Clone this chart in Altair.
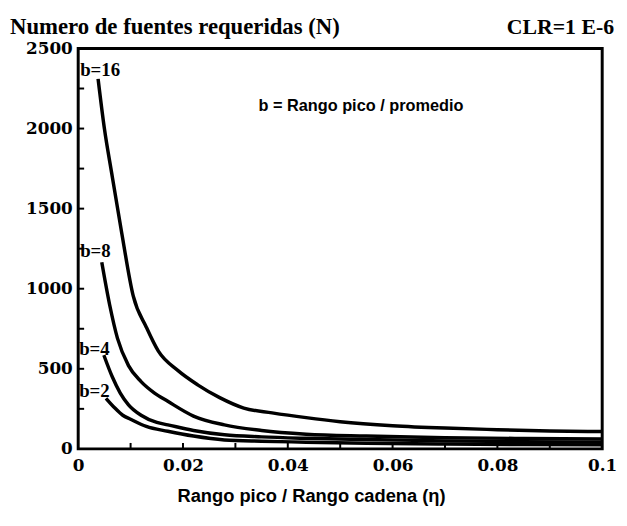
import altair as alt
import pandas as pd

# ---- data ----
eta_b16 = [0.0038, 0.0050, 0.0064, 0.0083, 0.0105, 0.0130, 0.0153, 0.0190, 0.0228, 0.0270, 0.0316, 0.0370, 0.0435, 0.0500, 0.0600, 0.0700, 0.0800, 0.0900, 0.1000]
n_b16 = [2310, 2000, 1720, 1350, 955, 760, 610, 490, 400, 320, 255, 225, 195, 170, 145, 130, 120, 112, 108]

eta_b8 = [0.0045, 0.0060, 0.0075, 0.0096, 0.0120, 0.0145, 0.0171, 0.0220, 0.0279, 0.0350, 0.0435, 0.0550, 0.0700, 0.0850, 0.1000]
n_b8 = [1165, 900, 690, 520, 420, 350, 297, 205, 150, 115, 92, 80, 70, 65, 62]

eta_b4 = [0.0049, 0.0065, 0.0080, 0.0096, 0.0120, 0.0150, 0.0171, 0.0220, 0.0279, 0.0350, 0.0435, 0.0550, 0.0700, 0.0850, 0.1000]
n_b4 = [585, 450, 350, 275, 210, 165, 150, 115, 88, 75, 66, 58, 50, 45, 42]

eta_b2 = [0.0053, 0.0070, 0.0085, 0.0100, 0.0130, 0.0171, 0.0220, 0.0279, 0.0350, 0.0435, 0.0550, 0.0700, 0.0850, 0.1000]
n_b2 = [316, 255, 210, 185, 140, 110, 80, 56, 48, 42, 35, 30, 27, 25]

x_ticks = [0, 0.02, 0.04, 0.06, 0.08, 0.1]
x_minor = [0.01, 0.02, 0.03, 0.04, 0.05, 0.06, 0.07, 0.08, 0.09]
y_ticks = [0, 500, 1000, 1500, 2000, 2500]
y_minor = [250, 500, 750, 1000, 1250, 1500, 1750, 2000, 2250]

title_text = "Numero de fuentes requeridas (N)"
clr_text = "CLR=1 E-6"
xtitle_text = "Rango pico / Rango cadena  (η)"
note_text = "b = Rango pico / promedio"
curve_labels = ["b=16", "b=8", "b=4", "b=2"]

rows = []
for lab, xs_, ys_ in [("b=16", eta_b16, n_b16), ("b=8", eta_b8, n_b8),
                      ("b=4", eta_b4, n_b4), ("b=2", eta_b2, n_b2)]:
    for a, b in zip(xs_, ys_):
        rows.append({"b": lab, "eta": a, "N": b})
df = pd.DataFrame(rows)

W, H = 530, 405
SERIF = "Liberation Serif"
DSERIF = "DejaVu Serif"
SANS = "Liberation Sans"

xs = alt.Scale(domain=[0, 0.1], nice=False, zero=True)
ys = alt.Scale(domain=[0, 2500], nice=False)

lines = alt.Chart(df).mark_line(color="black", strokeWidth=3.5, interpolate="monotone").encode(
    x=alt.X("eta:Q", scale=xs,
            axis=alt.Axis(values=x_ticks, format="~g", title=None, grid=False,
                          domain=False, ticks=False, labelPadding=9,
                          labelFont=DSERIF, labelFontSize=17, labelFontWeight="bold",
                          labelColor="black", labelFlush=False)),
    y=alt.Y("N:Q", scale=ys,
            axis=alt.Axis(values=y_ticks, format="d", title=None, grid=False, domain=False,
                          ticks=False, labelPadding=6,
                          labelFont=DSERIF, labelFontSize=17, labelFontWeight="bold",
                          labelColor="black")),
    detail="b:N",
)

xt = alt.Chart(pd.DataFrame({"t": x_minor})).mark_rule(color="black", strokeWidth=2).encode(
    x=alt.X("t:Q", scale=xs), y=alt.value(H), y2=alt.value(H - 6))
yt = alt.Chart(pd.DataFrame({"t": y_minor})).mark_rule(color="black", strokeWidth=2).encode(
    y=alt.Y("t:Q", scale=ys), x=alt.value(0), x2=alt.value(6))

def txt(s, x, y, font, size, align="left"):
    return alt.Chart(pd.DataFrame({"s": [s]})).mark_text(
        font=font, fontSize=size, fontWeight="bold", color="black",
        align=align, baseline="middle").encode(
        text="s:N", x=alt.value(x), y=alt.value(y))

texts = [
    txt(title_text, -69, -22, SERIF, 23),
    txt(clr_text, 542, -22, SERIF, 22, align="right"),
    txt(note_text, 286, 58, SANS, 16.5, align="center"),
    txt(xtitle_text, 236, 453, SANS, 18.5, align="center"),
    txt(curve_labels[0], 2, 22, SERIF, 19),
    txt(curve_labels[1], 2, 205, SERIF, 19),
    txt(curve_labels[2], 1, 304, SERIF, 19),
    txt(curve_labels[3], 1, 347, SERIF, 19),
]

chart = alt.layer(lines, xt, yt, *texts).properties(
    width=W, height=H,
    autosize=alt.AutoSizeParams(type="none"),
    padding={"left": 71, "top": 38, "right": 17, "bottom": 70},
    background="white",
).configure_view(stroke="black", strokeWidth=3)

chart.save("out.html", embed_options={"renderer": "svg", "actions": False})
